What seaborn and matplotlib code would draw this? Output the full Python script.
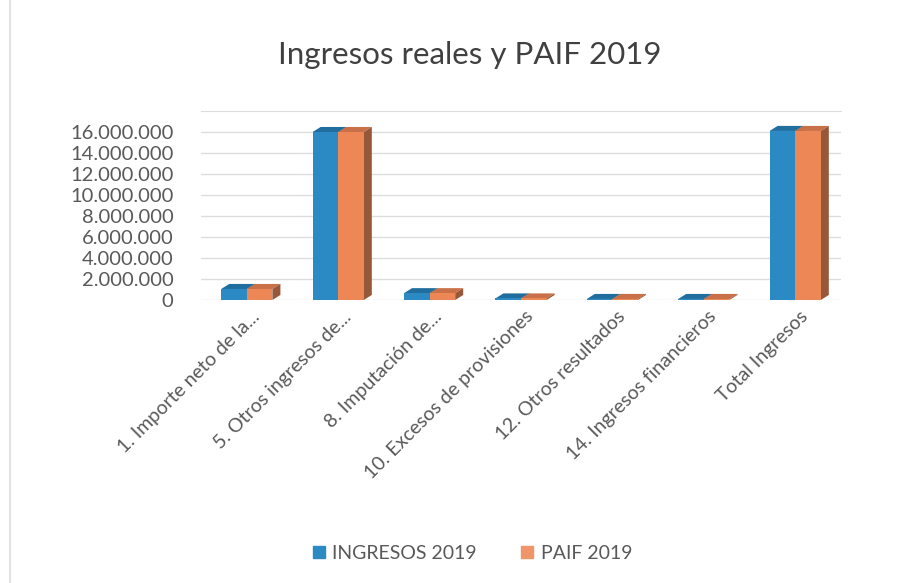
import pandas as pd
import seaborn as sns
import matplotlib.pyplot as plt
import matplotlib.transforms as mtransforms
from matplotlib.patches import Polygon
from matplotlib.lines import Line2D
from matplotlib.ticker import FuncFormatter

categorias = ['1. Importe neto de la...', '5. Otros ingresos de...', '8. Imputación de...',
              '10. Excesos de provisiones', '12. Otros resultados', '14. Ingresos financieros',
              'Total Ingresos']
ingresos_2019 = [1050000, 16000000, 650000, 150000, 100000, 100000, 16100000]
paif_2019 = [1050000, 16000000, 650000, 150000, 100000, 100000, 16100000]
series = ['INGRESOS 2019', 'PAIF 2019']

df = pd.DataFrame({
    'categoria': categorias * 2,
    'valor': ingresos_2019 + paif_2019,
    'serie': [series[0]] * len(categorias) + [series[1]] * len(categorias),
})

azul, naranja = '#2B8AC4', '#EE8756'
tapa = {azul: '#1F6E9E', naranja: '#C97048'}
lado = {azul: '#1B5E88', naranja: '#97583A'}

sns.set_style('white')
plt.rcParams['font.family'] = ['Lato', 'DejaVu Sans']

fig = plt.figure(figsize=(9.14, 5.83), dpi=100)
ax = fig.add_axes([0.22, 0.4854, 0.70, 0.3242])

sns.barplot(data=df, x='categoria', y='valor', hue='serie', palette=[azul, naranja],
            width=0.56, saturation=1, ax=ax, legend=False, zorder=2, linewidth=0)

# fake 3D depth: top and side faces from each bar
dx, dy = 0.088, 480000
for cont, col in zip(ax.containers, [azul, naranja]):
    for p in cont.patches:
        x, w, h = p.get_x(), p.get_width(), p.get_height()
        ax.add_patch(Polygon([(x, h), (x + w, h), (x + w + dx, h + dy), (x + dx, h + dy)],
                             closed=True, color=tapa[col], lw=0, zorder=1.5))
        ax.add_patch(Polygon([(x + w, 0), (x + w + dx, dy), (x + w + dx, h + dy), (x + w, h)],
                             closed=True, color=lado[col], lw=0, zorder=1.5))

ax.set_ylim(0, 18000000)
ax.set_xlim(-0.5, 6.5)
ax.set_yticks(range(0, 16000001, 2000000))
ax.yaxis.set_major_formatter(FuncFormatter(lambda v, _: f'{v:,.0f}'.replace(',', '.')))
ax.yaxis.grid(True, color='#DDDDDD', lw=1, zorder=0)
ax.set_axisbelow(True)
for s in ['left', 'right', 'bottom']:
    ax.spines[s].set_visible(False)
ax.spines['top'].set_color('#DDDDDD')
ax.set_xlabel('')
ax.set_ylabel('')
ax.tick_params(axis='y', length=0, pad=20, labelsize=14.5, labelcolor='#595959')
ax.tick_params(axis='x', length=0, pad=10, labelsize=14, labelcolor='#595959')

offset = mtransforms.ScaledTranslation(10 / 100, 0, fig.dpi_scale_trans)
for lab in ax.get_xticklabels():
    lab.set_rotation(45)
    lab.set_ha('right')
    lab.set_va('center')
    lab.set_rotation_mode('anchor')
    lab.set_transform(lab.get_transform() + offset)

fig.text(0.514, 0.905, 'Ingresos reales y PAIF 2019', ha='center', va='center',
         fontsize=22.5, color='#404040')

handles = [Line2D([], [], marker='s', ls='', markersize=9, color=c) for c in [azul, '#F0956A']]
fig.legend(handles, series, loc='center', bbox_to_anchor=(0.516, 0.051), ncol=2, frameon=False,
           fontsize=14, labelcolor='#595959', handletextpad=0.3, columnspacing=2.2,
           handlelength=0.8)

fig.add_artist(Line2D([0.011, 0.011], [0, 1], color='#E2E2E2', lw=1.5))

plt.savefig('out.png', dpi=100)
